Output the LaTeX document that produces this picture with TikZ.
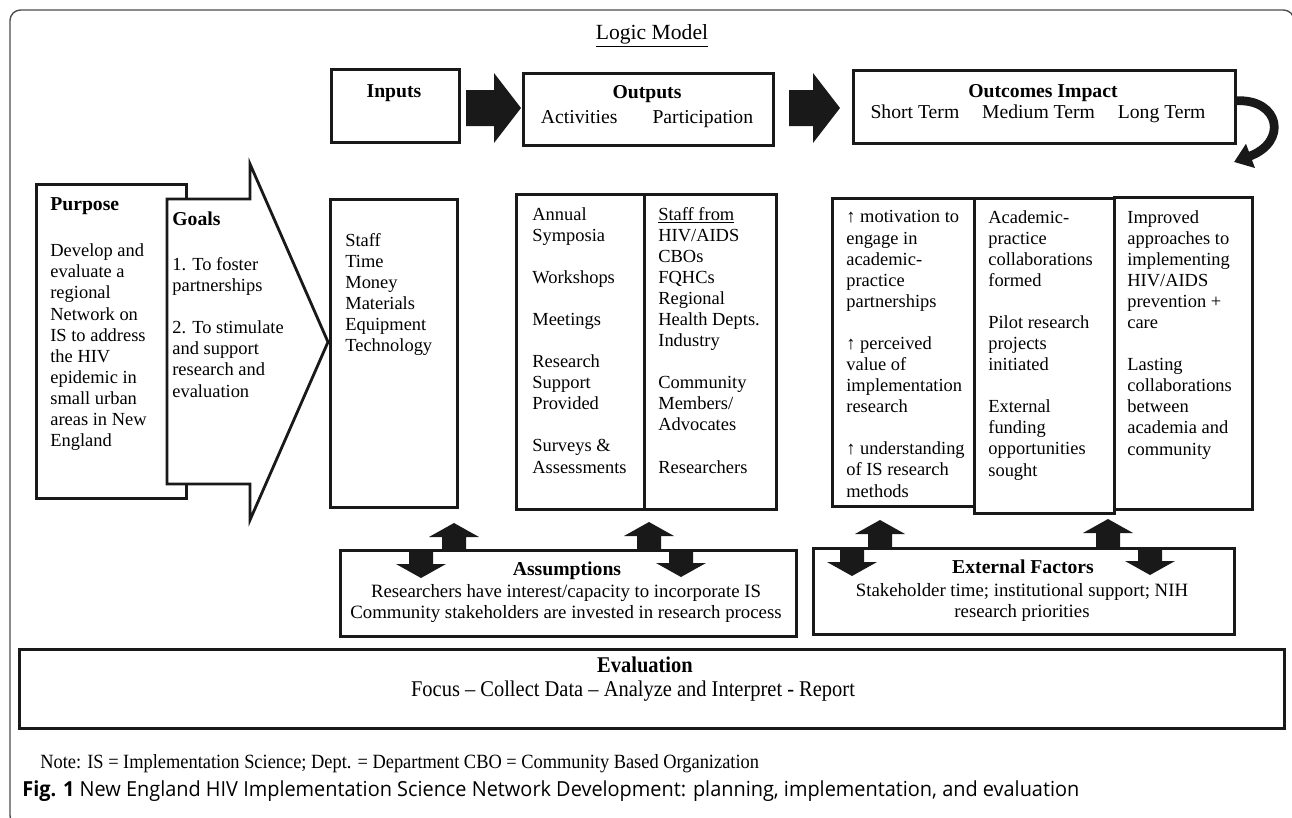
\documentclass[tikz,border=0pt]{standalone}
\usepackage{fontspec}
\setmainfont{Liberation Serif}
\newfontfamily\capfont[FakeStretch=0.96]{Open Sans}
\newfontfamily\narrowserif[FakeStretch=0.91]{Liberation Serif}
\usetikzlibrary{positioning,calc,arrows.meta}

\tikzset{
  box/.style={draw=black!90, line width=1.6pt, anchor=north west, inner sep=0pt},
  head/.style={font=\fontsize{11.2}{13}\selectfont\bfseries, inner sep=0pt, anchor=base},
  txt/.style={font=\fontsize{10.5}{12}\selectfont, align=left, inner sep=0pt, anchor=base west},
  ctxt/.style={font=\fontsize{10.7}{11.5}\selectfont, align=center, inner sep=0pt, anchor=base},
  blk/.style={fill=black!90},
}

% fat arrows: centre x, tip y, foot y  /  left x, tip x, centre y
\newcommand{\uparr}[3]{\fill[blk] (#1,#2) -- (#1+25,#2+14) -- (#1+12,#2+14) -- (#1+12,#3) -- (#1-12,#3) -- (#1-12,#2+14) -- (#1-25,#2+14) -- cycle;}
\newcommand{\downarr}[3]{\fill[blk] (#1-12,#2) -- (#1+12,#2) -- (#1+12,#3-14) -- (#1+25,#3-14) -- (#1,#3) -- (#1-25,#3-14) -- (#1-12,#3-14) -- cycle;}
\newcommand{\rightarr}[3]{\fill[blk] (#1,#3-18) -- (#2-27,#3-18) -- (#2-27,#3-35) -- (#2,#3) -- (#2-27,#3+35) -- (#2-27,#3+18) -- (#1,#3+18) -- cycle;}

\begin{document}
\begin{tikzpicture}[x=0.02cm, y=-0.02cm]
	\useasboundingbox (0,0) rectangle (1292,818);
	\draw[black!70, line width=0.8pt, rounded corners=6pt] (10,10) rectangle (1294,826);
	
	\node[anchor=base, font=\fontsize{12.3}{14}\selectfont, inner sep=0pt] (title) at (652,39) {\underline{Logic Model}};
	
	% top row
	\node[box, minimum width=2.56cm, minimum height=1.46cm] (inputs) at (330,68) {};
	\node[box, minimum width=5.00cm, minimum height=1.44cm] (outputs) at (522,72) {};
	\node[box, minimum width=7.64cm, minimum height=1.46cm] (outcomes) at (852,69) {};
	\node[head] (inputs-h) at (394,97) {Inputs};
	\node[head] (outputs-h) at (647,98) {Outputs};
	\node[head, font=\fontsize{11.2}{13}\selectfont] (outputs-s) at (647,123) {Activities\hspace{20pt}Participation};
	\node[head] (outcomes-h) at (1043,97) {Outcomes Impact};
	\node[head, font=\fontsize{11.2}{13}\selectfont] (outcomes-s) at (1038,118) {Short Term\hspace{13pt}Medium Term\hspace{13pt}Long Term};
	\rightarr{466}{521}{108}
	\rightarr{789}{840}{108}
	\coordinate (loopend) at (1234,162);
	\draw[line width=5pt, black!90, -{Triangle[length=10pt,width=14pt]}] ([yshift=3.5pt]outcomes.east) .. controls (1280,99) and (1288,142) .. (loopend);
	
	% purpose and goals
	\node[box, minimum width=3.00cm, minimum height=6.28cm] (purpose) at (35,183) {};
	\draw[line width=1.6pt, draw=black!90, fill=white] (167,199) -- (250,199) -- (250,164) -- (328,342) -- (250,520) -- (250,484) -- (167,484) -- cycle;
	\node[head, anchor=base west] (purpose-h) at (50,210) {Purpose};
	\node[txt] (purpose-t) at (50,446.5) {Develop and\\evaluate a\\regional\\Network on\\IS to address\\the HIV\\epidemic in\\small urban\\areas in New\\England};
	\node[head, anchor=base west] (goals-h) at (172,225) {Goals};
	\node[txt] (goals-t) at (172,397) {1. To foster\\partnerships\\[12pt]2. To stimulate\\and support\\research and\\evaluation};
	
	% columns
	\node[box, minimum width=2.54cm, minimum height=6.16cm] (inputs-c) at (329,198) {};
	\node[box, minimum width=2.56cm, minimum height=6.30cm] (activities) at (515,193) {};
	\node[box, minimum width=2.64cm, minimum height=6.30cm] (participation) at (643,193) {};
	\node[box, minimum width=2.84cm, minimum height=6.16cm] (short) at (831,197) {};
	\node[box, minimum width=2.80cm, minimum height=6.30cm] (medium) at (973,197) {};
	\node[box, minimum width=2.76cm, minimum height=6.24cm] (long) at (1113,196) {};
	
	\node[txt] (inputs-t) at (345,351.8) {Staff\\Time\\Money\\Materials\\Equipment\\Technology};
	\node[txt] (activities-t) at (532,473) {Annual\\Symposia\\[12pt]Workshops\\[12pt]Meetings\\[12pt]Research\\Support\\Provided\\[12pt]Surveys \&\\Assessments};
	\node[txt] (participation-t) at (658,473) {\underline{Staff from}\\HIV/AIDS\\CBOs\\FQHCs\\Regional\\Health Depts.\\Industry\\[12pt]Community\\Members/\\Advocates\\[12pt]Researchers};
	\node[txt] (short-t) at (846,497) {↑ motivation to\\engage in\\academic-\\practice\\partnerships\\[12pt]↑ perceived\\value of\\implementation\\research\\[12pt]↑ understanding\\of IS research\\methods};
	\node[txt] (medium-t) at (988,476) {Academic-\\practice\\collaborations\\formed\\[12pt]Pilot research\\projects\\initiated\\[12pt]External\\funding\\opportunities\\sought};
	\node[txt] (long-t) at (1127,455) {Improved\\approaches to\\implementing\\HIV/AIDS\\prevention +\\care\\[12pt]Lasting\\collaborations\\between\\academia and\\community};
	
	% assumptions and external factors
	\node[box, minimum width=9.12cm, minimum height=1.72cm] (assump) at (339,549) {};
	\node[box, minimum width=8.42cm, minimum height=1.72cm] (external) at (812,547) {};
	\uparr{454}{523}{549}
	\uparr{649}{522}{549}
	\downarr{421}{549}{578}
	\downarr{681}{549}{577}
	\uparr{880}{520}{547}
	\uparr{1108}{519}{547}
	\downarr{852}{547}{576}
	\downarr{1150}{547}{575}
	\node[head] (assump-h) at (567,575) {Assumptions};
	\node[ctxt] (assump-t) at (566,618) {Researchers have interest/capacity to incorporate IS\\Community stakeholders are invested in research process};
	\node[head] (external-h) at (1023,573) {External Factors};
	\node[ctxt] (external-t) at (1022,617) {Stakeholder time; institutional support; NIH\\research priorities};
	
	% evaluation
	\node[box, minimum width=25.30cm, minimum height=1.58cm] (eval) at (18,648) {};
	\node[head, font=\narrowserif\fontsize{12.8}{14}\selectfont\bfseries] (eval-h) at (645,672) {Evaluation};
	\node[head, font=\narrowserif\fontsize{12.8}{14}\selectfont] (eval-t) at (633,696) {Focus – Collect Data – Analyze and Interpret - Report};
	
	\node[anchor=base west, inner sep=0pt, font=\narrowserif\fontsize{11.5}{13}\selectfont] (note) at (40,768) {Note: IS = Implementation Science; Dept. = Department CBO = Community Based Organization};
	\node[anchor=base west, inner sep=0pt, font=\capfont\fontsize{11.8}{13}\selectfont] (caption) at (22,796) {\textbf{Fig. 1} New England HIV Implementation Science Network Development: planning, implementation, and evaluation};
\end{tikzpicture}
\end{document}
